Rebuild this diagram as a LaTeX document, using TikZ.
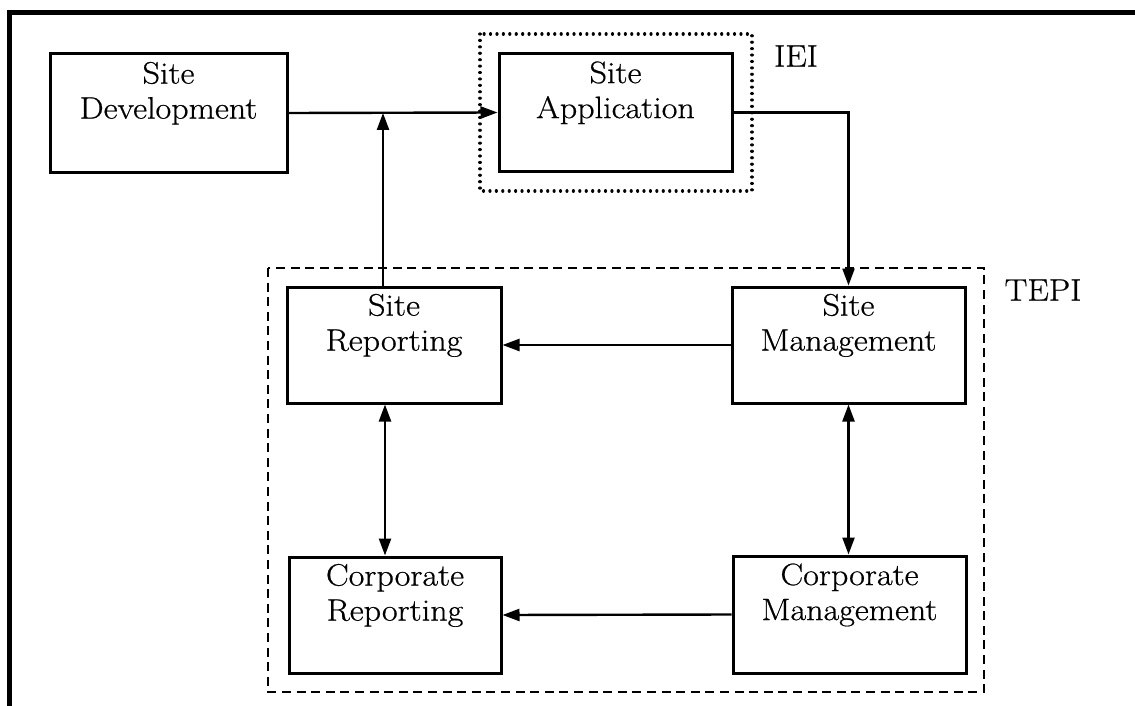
\documentclass[tikz,border=0pt]{standalone}
\usepackage{fontspec}
\newfontfamily\bxfont{Latin Modern Roman}[FakeBold=0.6,FakeStretch=1.1]
\usetikzlibrary{arrows.meta}
\begin{document}
\begin{tikzpicture}[x=0.5pt,y=-0.5pt,
  box/.style={draw,line width=1.5pt,rectangle,inner sep=0pt,align=center,
    font=\bxfont\fontsize{15.5}{17.5}\selectfont},
  lbl/.style={inner sep=0pt,font=\bxfont\fontsize{15.5}{17.5}\selectfont},
  tip/.tip={Triangle[length=8.5pt,width=6pt]},
  arr/.style={line width=1.2pt,-tip},
  darr/.style={line width=1.2pt,tip-tip},
  dotbox/.style={line width=1.6pt,dash pattern=on 0.01pt off 3.2pt,line cap=round},
  dashbox/.style={line width=1.1pt,dash pattern=on 4.5pt off 2.8pt}]
\useasboundingbox (0,0) rectangle (1135,706);
% outer frame (cropped)
\draw[line width=2.5pt] (9,706) -- (9,13) -- (1135,13);
% group frames
\draw[dotbox] (480,34) rectangle (752,191);
\draw[dashbox] (268,268) rectangle (984,692);
\node[lbl] (iei) at (796,56) {IEI};
\node[lbl] (tepi) at (1043,290) {TEPI};
% boxes
\node[box,minimum width=118.5pt,minimum height=59pt] (sd) at (168.5,113) {Site\\Development\\\strut};
\node[box,minimum width=116.5pt,minimum height=58.5pt] (sa) at (615.5,112.5) {Site\\Application\\\strut};
\node[box,minimum width=107pt,minimum height=58pt] (sr) at (394,345) {Site\\Reporting\\\strut};
\node[box,minimum width=116.5pt,minimum height=58pt] (sm) at (848.5,345) {Site\\Management\\\strut};
\node[box,minimum width=106pt,minimum height=58pt] (cr) at (395,615) {Corporate\\Reporting\\\strut};
\node[box,minimum width=116.5pt,minimum height=58.5pt] (cm) at (849.5,614.5) {Corporate\\Management\\\strut};
% connectors
\coordinate (j) at (383,113);
\draw[arr] (sd.east) -- (sa.west);
\draw[arr] (sr.north -| j) -- (j);
\draw[arr] (sa.east) -| (sm.north);
\draw[arr] (sm.west) -- (sr.east);
\draw[arr] (cm.west) -- (cr.east);
\draw[darr] ([xshift=-4.5pt]sr.south) -- ([xshift=-4.5pt]sr.south |- cr.north);
\draw[darr] (sm.south) -- (sm.south |- cm.north);
\end{tikzpicture}
\end{document}
